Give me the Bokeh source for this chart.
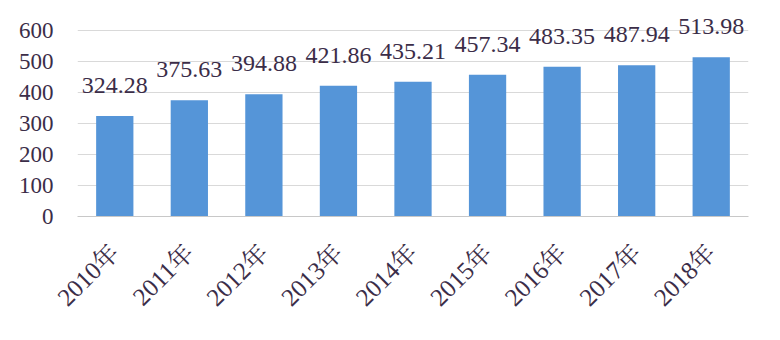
import math
from bokeh.plotting import figure
from bokeh.models import ColumnDataSource, LabelSet, FactorRange
from bokeh.embed import file_html
from bokeh.resources import INLINE

years = ["2010年", "2011年", "2012年", "2013年", "2014年", "2015年", "2016年", "2017年", "2018年"]
values = [324.28, 375.63, 394.88, 421.86, 435.21, 457.34, 483.35, 487.94, 513.98]
value_labels = ["324.28", "375.63", "394.88", "421.86", "435.21", "457.34", "483.35", "487.94", "513.98"]
y_ticks = [0, 100, 200, 300, 400, 500, 600]

SERIF = "'Liberation Serif', 'Times New Roman', 'Noto Serif CJK SC', 'Noto Sans CJK SC', serif"
TEXT_COLOR = "#3b2d48"

src = ColumnDataSource(dict(x=years, top=values, lab=value_labels))

p = figure(width=780, height=340, x_range=FactorRange(*years, range_padding=0),
           y_range=(0, 665), output_backend="svg", toolbar_location=None,
           min_border_left=77, min_border_right=32, min_border_top=10, min_border_bottom=124)

p.vbar(x="x", top="top", width=0.5, source=src, fill_color="#5595d8", line_color=None)

labels = LabelSet(x="x", y="top", text="lab", source=src, text_align="center",
                  text_baseline="bottom", y_offset=23, text_font_size="24px",
                  text_color=TEXT_COLOR, text_font=SERIF)
p.add_layout(labels)

p.yaxis.ticker = y_ticks
p.yaxis.axis_line_color = None
p.yaxis.major_tick_line_color = None
p.yaxis.minor_tick_line_color = None
p.yaxis.major_label_text_font = SERIF
p.yaxis.major_label_text_font_size = "23px"
p.yaxis.major_label_text_color = TEXT_COLOR
p.yaxis.major_label_standoff = 18

p.xaxis.axis_line_color = "#c8c8c8"
p.xaxis.major_tick_line_color = None
p.xaxis.minor_tick_line_color = None
p.xaxis.major_label_orientation = math.pi / 4
p.xaxis.major_label_text_font = SERIF
p.xaxis.major_label_text_font_size = "25px"
p.xaxis.major_label_text_color = TEXT_COLOR
p.xaxis.major_label_standoff = 26

p.xgrid.grid_line_color = None
p.ygrid.grid_line_color = "#d9d9d9"
p.ygrid.ticker = y_ticks
p.outline_line_color = None
p.background_fill_color = "white"
p.border_fill_color = "white"

open("out.html", "w").write(file_html(p, INLINE))
